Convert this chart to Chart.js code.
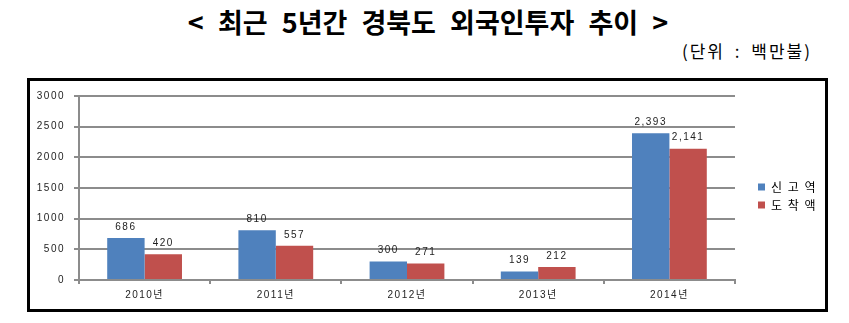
<!DOCTYPE html>
<html>
<head>
<meta charset="utf-8">
<script src="https://cdn.jsdelivr.net/npm/chart.js@4.4.1/dist/chart.umd.min.js"></script>
<style>
  html, body { margin: 0; padding: 0; background: #fff; }
  body { width: 849px; height: 323px; position: relative; overflow: hidden; }
  .title {
    position: absolute; left: 0; width: 856px; top: 2px; text-align: center;
    font: 700 27px "Noto Sans CJK KR", sans-serif; color: #000; word-spacing: 8px;
  }
  .unit {
    position: absolute; right: 37px; top: 38px;
    font: 400 17px "Noto Sans CJK KR", sans-serif; color: #000;
    letter-spacing: 2px; word-spacing: 4px;
  }
  .frame {
    position: absolute; left: 27px; top: 78px; width: 795px; height: 228px;
    border: 3px solid #000;
  }
  .frame canvas { display: block; }
</style>
</head>
<body>
<div class="title">&lt; 최근 5년간 경북도 외국인투자 추이 &gt;</div>
<div class="unit">(단위 : 백만불)</div>
<div class="frame"><canvas id="chart" width="795" height="228"></canvas></div>
<script>
const years = ["2010년", "2011년", "2012년", "2013년", "2014년"];
const reported = [686, 810, 300, 139, 2393];
const arrived = [420, 557, 271, 212, 2141];
const seriesNames = ["신 고 역", "도 착 액"];
const yTicks = [0, 500, 1000, 1500, 2000, 2500, 3000];

const FONT = "'Liberation Sans', 'Noto Sans CJK KR', sans-serif";
const SPACING = "1.5px";
const LEGEND_WIDTH = 90;

// fixed legend width, then nudge the legend items to the right of the plot
const layoutPlugin = {
  id: "fixedLayout",
  beforeLayout(chart) {
    chart.ctx.letterSpacing = SPACING;
    const lg = chart.legend;
    if (lg && !lg._fixedFit) {
      const fit = lg.fit;
      lg.fit = function () { fit.call(this); this.width = LEGEND_WIDTH; };
      lg._fixedFit = true;
    }
  },
  afterLayout(chart) {
    const lg = chart.legend;
    lg.left += 17; lg.right += 17;
    lg.top -= 4; lg.bottom -= 4;
  },
  beforeDraw(chart) { chart.ctx.letterSpacing = SPACING; },
};

const valueLabels = {
  id: "valueLabels",
  afterDatasetsDraw(chart) {
    const ctx = chart.ctx;
    ctx.save();
    ctx.letterSpacing = SPACING;
    ctx.font = "10px " + FONT;
    ctx.fillStyle = "#222";
    ctx.textAlign = "center";
    ctx.textBaseline = "bottom";
    chart.data.datasets.forEach((ds, i) => {
      chart.getDatasetMeta(i).data.forEach((bar, j) => {
        ctx.fillText(ds.data[j].toLocaleString("en-US"), bar.x, bar.y - 6);
      });
    });
    ctx.restore();
  },
};

new Chart(document.getElementById("chart"), {
  type: "bar",
  data: {
    labels: years,
    datasets: [
      { label: seriesNames[0], data: reported, backgroundColor: "#4F81BD" },
      { label: seriesNames[1], data: arrived, backgroundColor: "#C0504D" },
    ],
  },
  options: {
    responsive: false,
    animation: false,
    devicePixelRatio: 1,
    layout: { padding: { top: 10, left: 0, right: 0, bottom: 0 } },
    datasets: { bar: { categoryPercentage: 0.57, barPercentage: 1.0 } },
    plugins: {
      legend: {
        position: "right",
        labels: {
          boxWidth: 7, boxHeight: 7, padding: 6,
          color: "#000",
          font: { size: 12, family: "'Noto Sans CJK KR', sans-serif" },
        },
      },
      tooltip: { enabled: false },
    },
    scales: {
      x: {
        afterFit(scale) { scale.height = 29; },
        grid: { offset: true, drawOnChartArea: false, color: "#8c8c8c", lineWidth: 2, tickLength: 4 },
        border: { color: "#8c8c8c", width: 2 },
        ticks: { color: "#222", padding: 5, font: { size: 10, family: FONT } },
      },
      y: {
        min: 0, max: 3000,
        afterFit(scale) { scale.width = 49; },
        afterBuildTicks(scale) { scale.ticks = yTicks.map(v => ({ value: v })); },
        grid: { color: "#8c8c8c", lineWidth: 2, tickLength: 5 },
        border: { color: "#8c8c8c", width: 2 },
        ticks: {
          color: "#222", padding: 9, font: { size: 10, family: FONT },
          callback: v => String(v),
        },
      },
    },
  },
  plugins: [layoutPlugin, valueLabels],
});
</script>
</body>
</html>
